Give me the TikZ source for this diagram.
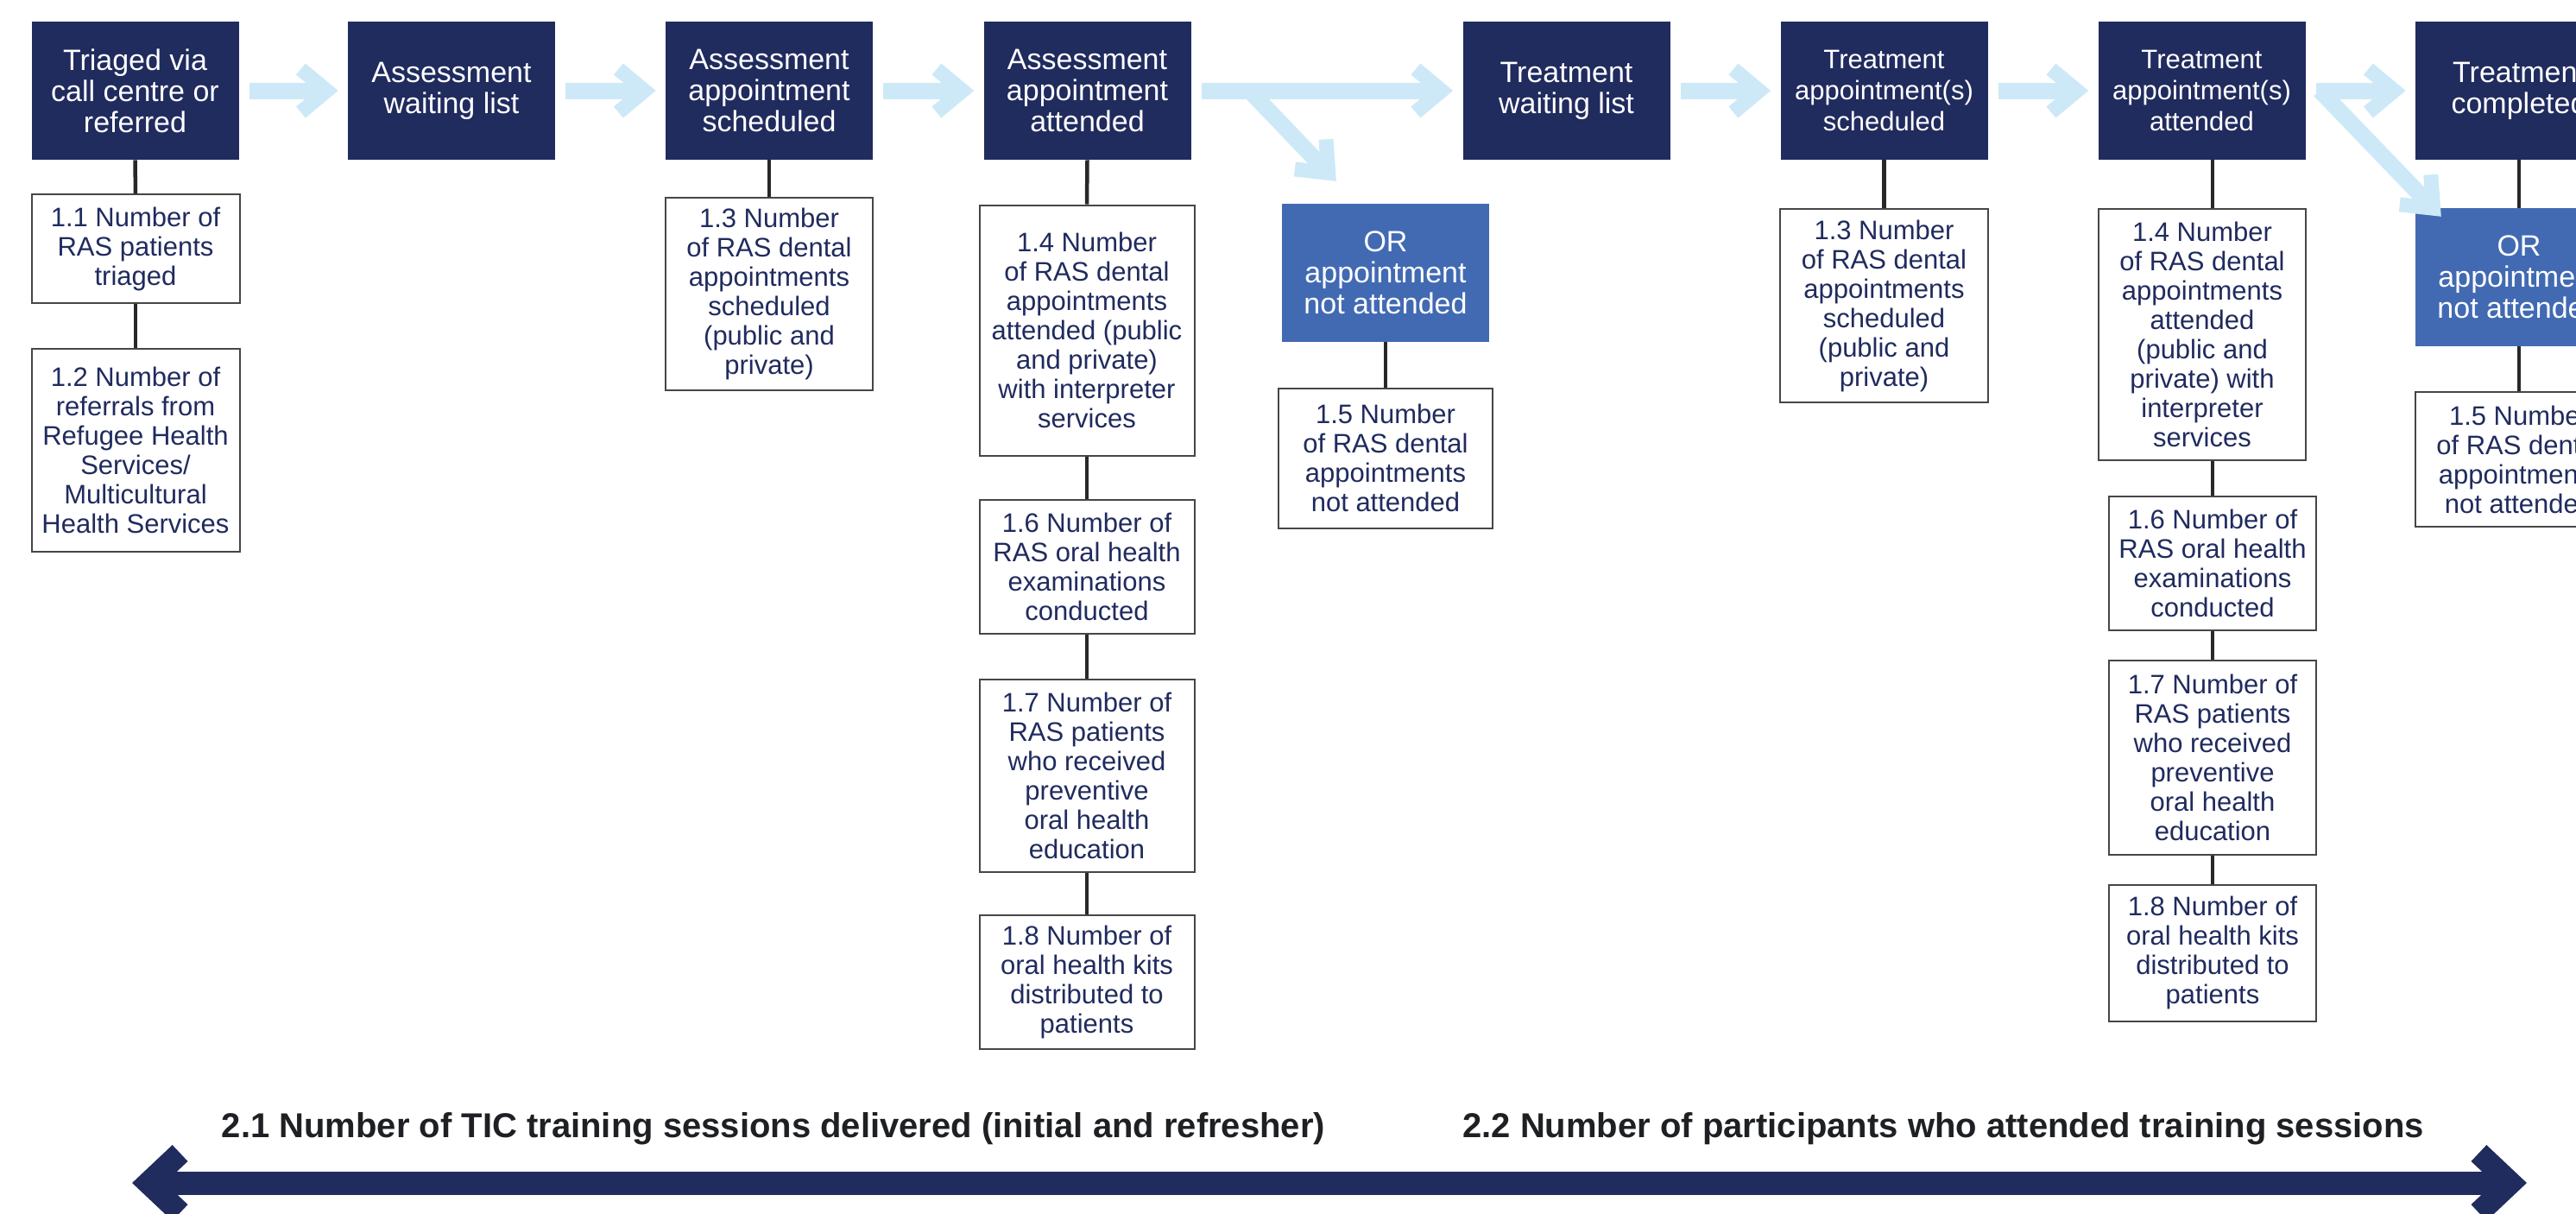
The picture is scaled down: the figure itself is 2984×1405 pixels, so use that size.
\documentclass[tikz,border=0pt]{standalone}
\usepackage{fontspec}
\setmainfont{Liberation Sans}
\usetikzlibrary{decorations.markings}
\definecolor{navy}{RGB}{32,43,94}
\definecolor{orblue}{RGB}{66,106,179}
\definecolor{flowblue}{RGB}{205,233,248}
\definecolor{rulegray}{RGB}{70,70,70}
\definecolor{linkgray}{RGB}{40,40,40}
\definecolor{ink}{RGB}{30,32,36}
\tikzset{
  stage/.style={fill=navy,text=white,align=center,minimum width=120pt,
    minimum height=80pt,inner sep=2pt,font=\fontsize{17pt}{18pt}\selectfont},
  missed/.style={stage,fill=orblue},
  measure/.style={draw=rulegray,line width=1pt,fill=white,text=navy,
    align=center,inner sep=2pt,anchor=north,
    font=\fontsize{15.5pt}{17pt}\selectfont},
  link/.style={draw=linkgray,line width=2.25pt},
  chev/.style={draw=#1,shorten <=0pt,shorten >=0pt,line cap=butt,
    line join=miter},
  % light blue chevron arrows, #1 = gap left before the tip
  flow/.style={draw=flowblue,line width=9.5pt,shorten <=6pt,
    shorten >={#1+6.6pt},
    postaction={decorate,decoration={markings,mark=at position 1 with
      {\draw[chev=flowblue,line width=8.5pt] ({-21.6pt-#1},12.5pt)
        -- ({-6.6pt-#1},0pt) -- ({-21.6pt-#1},-12.5pt);}}}},
  flow/.default=5.5pt,
  train/.style={draw=navy,line width=13.5pt,shorten <=9.5pt,shorten >=9.5pt,
    postaction={decorate,decoration={markings,
      mark=at position 0 with {\draw[chev=navy,line width=13pt]
        (27.8pt,17.25pt) -- (9.5pt,0pt) -- (27.8pt,-17.25pt);},
      mark=at position 1 with {\draw[chev=navy,line width=13pt]
        (-27.8pt,17.25pt) -- (-9.5pt,0pt) -- (-27.8pt,-17.25pt);}}}},
  tic/.style={anchor=base west,text=ink,inner sep=0pt,
    font=\bfseries\fontsize{20pt}{24pt}\selectfont}
}

\begin{document}
\begin{tikzpicture}[x=0.5pt,y=-0.5pt]
  \useasboundingbox (0,0) rectangle (2984,1405);
  % pathway stages
  \node[stage] (b1) at (156.5,105) {Triaged via\\call centre or\\referred};
  \node[stage] (b2) at (523,105) {Assessment\\waiting list};
  \node[stage] (b3) at (891,105) {Assessment\\appointment\\scheduled};
  \node[stage] (b4) at (1259.5,105) {Assessment\\appointment\\attended};
  \node[stage] (b5) at (1814.5,105) {Treatment\\waiting list};
  \node[stage,font=\fontsize{15.5pt}{18pt}\selectfont] (b6) at (2182.5,105)
    {Treatment\\appointment(s)\\scheduled};
  \node[stage,font=\fontsize{15.5pt}{18pt}\selectfont] (b7) at (2550.5,105)
    {Treatment\\appointment(s)\\attended};
  \node[stage] (b8) at (2918,105) {Treatment\\completed};
  \node[missed] (or1) at (1605,316) {OR\\appointment\\not attended};
  \node[missed] (or2) at (2918,321) {OR\\appointment\\not attended};
  % measures: name, x, top, width, height, text
  \newcommand\kpi[6]{%
    \node[measure,minimum width=#4,minimum height=#5] (#1) at (#2,#3) {#6};}
  \kpi{m11}{157}{224.3}{120.5pt}{63pt}{1.1 Number of\\RAS patients\\triaged}
  \kpi{m12}{157}{403.2}{120.5pt}{117.5pt}{1.2 Number of\\referrals from\\
    Refugee Health\\Services/\\Multicultural\\Health Services}
  \kpi{m13}{891}{227.7}{120pt}{111.5pt}{1.3 Number\\of RAS dental\\
    appointments\\scheduled\\(public and\\private)}
  \kpi{m14}{1259}{236.5}{124.5pt}{145pt}{1.4 Number\\of RAS dental\\
    appointments\\attended (public\\and private)\\with interpreter\\services}
  \kpi{m16}{1259}{577.7}{124.5pt}{77.5pt}{1.6 Number of\\RAS oral health\\
    examinations\\conducted}
  \kpi{m17}{1259}{786.2}{124.5pt}{111.5pt}{1.7 Number of\\RAS patients\\
    who received\\preventive\\oral health\\education}
  \kpi{m18}{1259}{1059.4}{124.5pt}{77.5pt}{1.8 Number of\\oral health kits\\
    distributed to\\patients}
  \kpi{m15}{1605}{448.7}{124pt}{81pt}{1.5 Number\\of RAS dental\\
    appointments\\not attended}
  \kpi{m13b}{2182.5}{241}{120.5pt}{112pt}{1.3 Number\\of RAS dental\\
    appointments\\scheduled\\(public and\\private)}
  \kpi{m14b}{2551}{241}{120pt}{145.5pt}{1.4 Number\\of RAS dental\\
    appointments\\attended\\(public and\\private) with\\interpreter\\services}
  \kpi{m16b}{2563}{573.7}{120pt}{77.5pt}{1.6 Number of\\RAS oral health\\
    examinations\\conducted}
  \kpi{m17b}{2563}{763.8}{120pt}{112.5pt}{1.7 Number of\\RAS patients\\
    who received\\preventive\\oral health\\education}
  \kpi{m18b}{2563}{1023.7}{120pt}{79pt}{1.8 Number of\\oral health kits\\
    distributed to\\patients}
  \kpi{m15b}{2918}{453}{120pt}{78pt}{1.5 Number\\of RAS dental\\
    appointments\\not attended}
  % stems down to the measures
  \foreach \a/\b in {b1/m11,m11/m12,b3/m13,b4/m14,m14/m16,m16/m17,m17/m18,
      or1/m15,b6/m13b,b8/or2,or2/m15b}
    \draw[link] (\a.south) -- (\b.north);
  \draw[link] (m16b.north |- b7.south) -- (m16b.north |- m14b.north);
  \draw[link] (m16b.north |- m14b.south) -- (m16b.north);
  \draw[link] (m16b.south) -- (m17b.north);
  \draw[link] (m17b.south) -- (m18b.north);
  % flow between stages
  \foreach \a/\b in {b1/b2,b2/b3,b3/b4,b4/b5,b5/b6,b6/b7,b7/b8}
    \draw[flow] (\a) -- (\b);
  \coordinate (fork1) at (1447,104.5);
  \coordinate (miss1) at (1548,210);
  \coordinate (fork2) at (2687,104.5);
  \coordinate (miss2) at (2828,251);
  \draw[flow=0pt,shorten <=0pt] (fork1) -- (miss1);
  \draw[flow=0pt,shorten <=0pt] (fork2) -- (miss2);
  % training outputs
  \node[tic] (tic1) at (256.5,1317.5)
    {2.1 Number of TIC training sessions delivered (initial and refresher)};
  \node[tic] (tic2) at (1694,1317.5)
    {2.2 Number of participants who attended training sessions};
  \coordinate (trainL) at (153,1370);
  \coordinate (trainR) at (2927,1370);
  \draw[train] (trainL) -- (trainR);
\end{tikzpicture}
\end{document}
